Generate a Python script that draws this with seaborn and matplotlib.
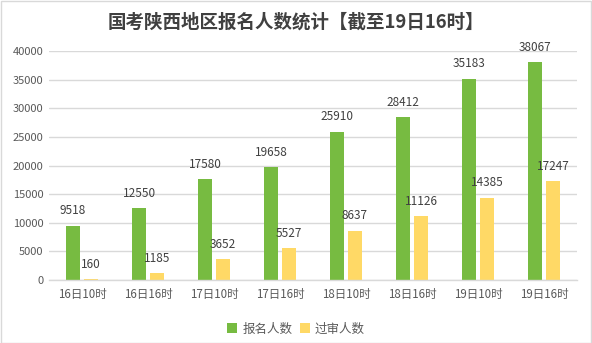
import matplotlib
matplotlib.use("Agg")
import matplotlib.pyplot as plt
import seaborn as sns
import pandas as pd
from matplotlib.patches import Patch, Rectangle

categories = ["16日10时", "16日16时", "17日10时", "17日16时", "18日10时", "18日16时", "19日10时", "19日16时"]
series_names = ["报名人数", "过审人数"]
registered = [9518, 12550, 17580, 19658, 25910, 28412, 35183, 38067]
approved = [160, 1185, 3652, 5527, 8637, 11126, 14385, 17247]
yticks = [0, 5000, 10000, 15000, 20000, 25000, 30000, 35000, 40000]
title = "国考陕西地区报名人数统计【截至19日16时】"

colors = ["#77BB41", "#FFD966"]

df = pd.DataFrame({
    "cat": categories * 2,
    "series": [series_names[0]] * len(categories) + [series_names[1]] * len(categories),
    "value": registered + approved,
})

sns.set_theme(style="white")
plt.rcParams["font.family"] = ["Noto Sans CJK SC", "DejaVu Sans"]

fig = plt.figure(figsize=(5.92, 3.43), dpi=100)
ax = fig.add_axes([49 / 592, 1 - 280 / 343, 528 / 592, 229 / 343])

sns.barplot(data=df, x="cat", y="value", hue="series", palette=colors,
            width=0.545, gap=0.22, ax=ax, legend=False, saturation=1,
            linewidth=0, edgecolor="none")

ax.set_ylim(0, 40000)
ax.set_xlim(-0.5, len(categories) - 0.5)
ax.set_yticks(yticks)
ax.set_yticklabels([str(v) for v in yticks], fontsize=8, color="#595959")
ax.tick_params(axis="x", labelsize=8.3, colors="#595959", length=0, pad=6)
ax.tick_params(axis="y", length=0, pad=4)
ax.set_xlabel("")
ax.set_ylabel("")
ax.grid(axis="y", color="#D9D9D9", linewidth=1)
ax.set_axisbelow(True)
for s in ["top", "right", "left"]:
    ax.spines[s].set_visible(False)
ax.spines["bottom"].set_color("#D9D9D9")
ax.spines["bottom"].set_linewidth(1)

for cont in ax.containers:
    ax.bar_label(cont, labels=[str(int(v)) for v in cont.datavalues],
                 padding=6, fontsize=8.5, color="#404040")

fig.text(0.5, 1 - 22 / 343, title, ha="center", va="center",
         fontsize=13.3, fontweight="bold", color="#404040")

handles = [Patch(facecolor=c, edgecolor="none") for c in colors]
fig.legend(handles, series_names, loc="center", bbox_to_anchor=(0.5, 1 - 329 / 343),
           ncol=2, frameon=False, fontsize=9, handlelength=0.8, handleheight=0.8,
           handletextpad=0.4, columnspacing=0.6, labelcolor="#595959")

fig.patches.append(Rectangle((0.001, 0.001), 0.997, 0.996, transform=fig.transFigure,
                             fill=False, edgecolor="#D9D9D9", linewidth=1))

fig.savefig("out.png", dpi=100)
